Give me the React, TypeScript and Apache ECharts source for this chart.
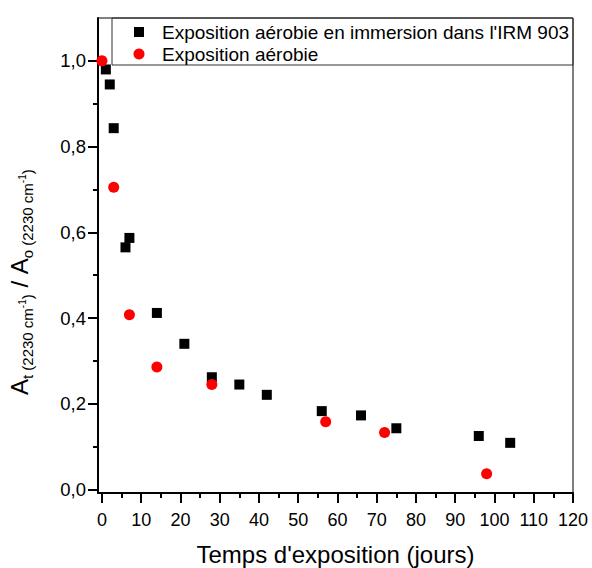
import React, { useEffect, useRef } from "react";
import * as echarts from "echarts";

// ---- data ----
const immersionDays = [1, 2, 3, 6, 7, 14, 21, 28, 35, 42, 56, 66, 75, 96, 104];
const immersionRatio = [0.98, 0.945, 0.843, 0.565, 0.587, 0.412, 0.34, 0.262, 0.245, 0.221, 0.183, 0.173, 0.143, 0.125, 0.109];
const aerobicDays = [0, 3, 7, 14, 28, 57, 72, 98];
const aerobicRatio = [1.0, 0.705, 0.408, 0.286, 0.245, 0.158, 0.133, 0.037];

const xMajorTicks = [0, 10, 20, 30, 40, 50, 60, 70, 80, 90, 100, 110, 120];
const xMinorTicks = [5, 15, 25, 35, 45, 55, 65, 75, 85, 95, 105, 115];
const yMajorTicks = [0, 0.2, 0.4, 0.6, 0.8, 1.0];
const yMinorTicks = [0.1, 0.3, 0.5, 0.7, 0.9];

const seriesNames = ["Exposition aérobie en immersion dans l'IRM 903", "Exposition aérobie"];
const xTitle = "Temps d'exposition (jours)";
// y title pieces: [text, role] role: main / sub / sup
const yTitleParts: [string, string][] = [
  ["A", "main"], ["t", "sub"], [" (2230 cm", "sub"], ["-1", "sup"], [")", "sub"],
  [" / ", "main"],
  ["A", "main"], ["o", "sub"], [" (2230 cm", "sub"], ["-1", "sup"], [")", "sub"],
];

const FONT = '"Liberation Sans", Arial, sans-serif';
const X_MIN = -1, X_MAX = 120, Y_MIN = -0.008, Y_MAX = 1.1;

function buildYTitle() {
  const canvas = document.createElement("canvas");
  const ctx = canvas.getContext("2d")!;
  const sizes: Record<string, number> = { main: 24, sub: 15, sup: 10 };
  const baselines: Record<string, number> = { main: 0, sub: 5, sup: -2 };
  let cursor = 0;
  const children: any[] = [];
  for (const [t, role] of yTitleParts) {
    const s = sizes[role];
    ctx.font = `${s}px ${FONT}`;
    const w = ctx.measureText(t).width;
    children.push({
      type: "text",
      x: cursor,
      y: baselines[role] - 0.3465 * s,
      style: { text: t, fontSize: s, fontFamily: FONT, fill: "#000", align: "left", verticalAlign: "middle" },
    });
    cursor += w;
  }
  return { type: "group", x: 28, y: 395, rotation: Math.PI / 2, children };
}

export default function App() {
  const ref = useRef<HTMLDivElement>(null);
  useEffect(() => {
    if (!ref.current) return;
    const chart = echarts.init(ref.current, null, { renderer: "svg" });
    const fmt = (v: number) => v.toFixed(1).replace(".", ",");
    const option: any = {
      animation: false,
      backgroundColor: "#fff",
      textStyle: { fontFamily: FONT },
      grid: {
        left: 98, right: 19, top: 18, bottom: 75, show: true, borderColor: "#000", borderWidth: 1,
        containLabel: false, outerBoundsMode: "none",
      },
      xAxis: [
        {
          type: "value", min: X_MIN, max: X_MAX, position: "bottom",
          name: xTitle, nameLocation: "middle", nameGap: 49,
          nameTextStyle: { fontSize: 24, color: "#000", fontFamily: FONT },
          axisLine: { show: true, onZero: false, lineStyle: { color: "#000", width: 2 } },
          axisTick: { show: true, inside: false, length: 10, customValues: xMajorTicks, lineStyle: { color: "#000", width: 2 } },
          axisLabel: { show: true, customValues: xMajorTicks, margin: 18, fontSize: 18, color: "#000", fontFamily: FONT, showMinLabel: true, showMaxLabel: true },
          splitLine: { show: false },
        },
        {
          type: "value", min: X_MIN, max: X_MAX, position: "bottom", gridIndex: 0,
          axisLine: { show: false, onZero: false },
          axisTick: { show: true, length: 5, customValues: xMinorTicks, lineStyle: { color: "#000", width: 2 } },
          axisLabel: { show: false },
          splitLine: { show: false },
        },
      ],
      yAxis: [
        {
          type: "value", min: Y_MIN, max: Y_MAX, position: "left",
          axisLine: { show: true, onZero: false, lineStyle: { color: "#000", width: 2 } },
          axisTick: { show: true, length: 10, customValues: yMajorTicks, lineStyle: { color: "#000", width: 2 } },
          axisLabel: { show: true, customValues: yMajorTicks, margin: 12, fontSize: 18.5, color: "#000", fontFamily: FONT, formatter: fmt },
          splitLine: { show: false },
        },
        {
          type: "value", min: Y_MIN, max: Y_MAX, position: "left", gridIndex: 0,
          axisLine: { show: false, onZero: false },
          axisTick: { show: true, length: 5, customValues: yMinorTicks, lineStyle: { color: "#000", width: 2 } },
          axisLabel: { show: false },
          splitLine: { show: false },
        },
      ],
      series: [
        {
          name: seriesNames[0], type: "scatter", xAxisIndex: 0, yAxisIndex: 0,
          symbol: "rect", symbolSize: 10, itemStyle: { color: "#000", opacity: 1 },
          data: immersionDays.map((d, i) => [d, immersionRatio[i]]),
        },
        {
          name: seriesNames[1], type: "scatter", xAxisIndex: 0, yAxisIndex: 0,
          symbol: "circle", symbolSize: 11, itemStyle: { color: "#ff0000", opacity: 1 },
          data: aerobicDays.map((d, i) => [d, aerobicRatio[i]]),
        },
      ],
      graphic: [
        { type: "rect", shape: { x: 112, y: 18, width: 461, height: 47 }, style: { fill: "none", stroke: "#333", lineWidth: 1 }, z: 10 },
        { type: "rect", shape: { x: 134, y: 27, width: 10, height: 10 }, style: { fill: "#000" }, z: 10 },
        { type: "circle", shape: { cx: 139, cy: 54, r: 5.5 }, style: { fill: "#ff0000" }, z: 10 },
        { type: "text", x: 162, y: 32, style: { text: seriesNames[0], fontSize: 19, fontFamily: FONT, fill: "#000", verticalAlign: "middle" }, z: 10 },
        { type: "text", x: 162, y: 54, style: { text: seriesNames[1], fontSize: 19, fontFamily: FONT, fill: "#000", verticalAlign: "middle" }, z: 10 },
        buildYTitle(),
      ],
    };
    chart.setOption(option);
    return () => chart.dispose();
  }, []);
  return <div ref={ref} style={{ position: "fixed", left: 0, top: 0, width: 592, height: 568, background: "#fff" }} />;
}
